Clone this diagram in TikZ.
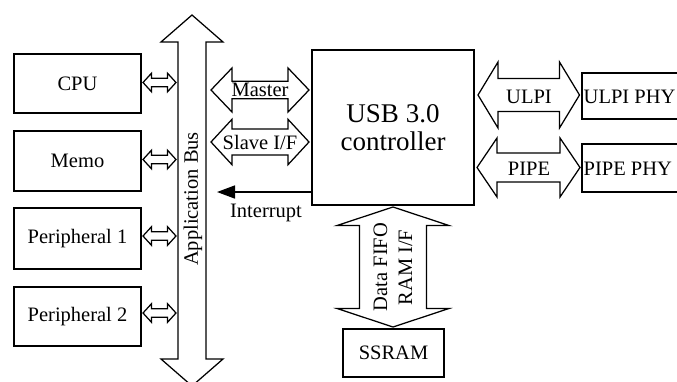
\documentclass[tikz,border=0pt]{standalone}
\usepackage{fontspec}
\setmainfont{Liberation Serif}
\usetikzlibrary{arrows.meta}
\tikzset{
  box/.style={draw, line width=1.25pt, inner sep=0pt, font=\fontsize{20.5}{22}\selectfont},
  blockarrow/.style={draw, line width=1.25pt, fill=white, line join=miter},
  lbl/.style={inner sep=0pt, font=\fontsize{20.5}{22}\selectfont},
  intarrow/.style={line width=1.6pt, -{Triangle[length=18pt,width=13pt]}}
}
% horizontal double block arrow: left x, right x, centre y, shaft half, head half, head length
\newcommand{\HBlock}[6]{%
  \draw[blockarrow] (#1,#3) -- ({#1+#6},{#3-#5}) -- ({#1+#6},{#3-#4}) -- ({#2-#6},{#3-#4})
    -- ({#2-#6},{#3-#5}) -- (#2,#3) -- ({#2-#6},{#3+#5}) -- ({#2-#6},{#3+#4})
    -- ({#1+#6},{#3+#4}) -- ({#1+#6},{#3+#5}) -- cycle;}
% vertical double block arrow: top y, bottom y, centre x, shaft half, head half, head length
\newcommand{\VBlock}[6]{%
  \draw[blockarrow] (#3,#1) -- ({#3-#5},{#1+#6}) -- ({#3-#4},{#1+#6}) -- ({#3-#4},{#2-#6})
    -- ({#3-#5},{#2-#6}) -- (#3,#2) -- ({#3+#5},{#2-#6}) -- ({#3+#4},{#2-#6})
    -- ({#3+#4},{#1+#6}) -- ({#3+#5},{#1+#6}) -- cycle;}
\begin{document}
\begin{tikzpicture}[x=1pt,y=-1pt]
\useasboundingbox (0,0) rectangle (677,381);
\clip (0,0) rectangle (677,381);

% left-hand blocks
\node[box, minimum width=127pt, minimum height=59pt] (cpu)  at (77.5,83.5)  {CPU};
\node[box, minimum width=127pt, minimum height=60pt] (memo) at (77.5,161)   {Memo};
\node[box, minimum width=127pt, minimum height=61pt] (per1) at (77.5,238.5) {Peripheral 1};
\node[box, minimum width=127pt, minimum height=59pt] (per2) at (77.5,316.5) {Peripheral 2};

% small links to the bus
\HBlock{143}{176}{82.5}{4.3}{9.3}{8.5}
\HBlock{143}{176}{159.5}{4.3}{9.3}{8.5}
\HBlock{143}{176}{236}{4.3}{9.3}{8.5}
\HBlock{143}{176}{313}{4.3}{9.3}{8.5}

% application bus
\VBlock{15}{386}{192}{14}{31}{27}
\node[lbl, rotate=90] (busl) at (193,199) {Application Bus};

% USB controller
\node[box, minimum width=162pt, minimum height=155pt, align=center,
      font=\fontsize{27}{28.5}\selectfont] (usb) at (393,127.5) {USB 3.0\\controller};

% master / slave
\HBlock{211}{309}{90}{8.7}{22}{21}
\node[lbl] (master) at (260,90) {Master};
\HBlock{211}{309}{142}{13}{22.7}{21}
\node[lbl] (slave) at (260,142.5) {Slave I/F};

% interrupt
\coordinate (intend) at (217,192);
\draw[intarrow] (usb.west |- intend) -- (intend);
\node[lbl] (intl) at (266,213) {Interrupt};

% PHYs
\node[box, minimum width=108pt, minimum height=46pt] (ulpiphy) at (636,96) {};
\node[lbl, anchor=west] (ulpiphyl) at (583.5,96.5) {ULPI PHY};
\node[box, minimum width=108pt, minimum height=48pt] (pipephy) at (636,168) {};
\node[lbl, anchor=west] (pipephyl) at (583.5,168.5) {PIPE PHY};

\HBlock{478}{579.5}{95}{16.5}{33}{20}
\node[lbl] (ulpi) at (529,96.5) {ULPI};
\HBlock{477}{580}{167.5}{14.5}{29.5}{20}
\node[lbl] (pipe) at (529,169) {PIPE};

% data FIFO and SSRAM
\VBlock{207}{327}{393}{33.5}{56}{18.5}
\node[lbl, rotate=90] (dfifo) at (380.5,267) {Data FIFO};
\node[lbl, rotate=90] (ramif) at (405.5,267.5) {RAM I/F};
\node[box, minimum width=101pt, minimum height=48pt] (ssram) at (393.5,353) {SSRAM};
\end{tikzpicture}
\end{document}
